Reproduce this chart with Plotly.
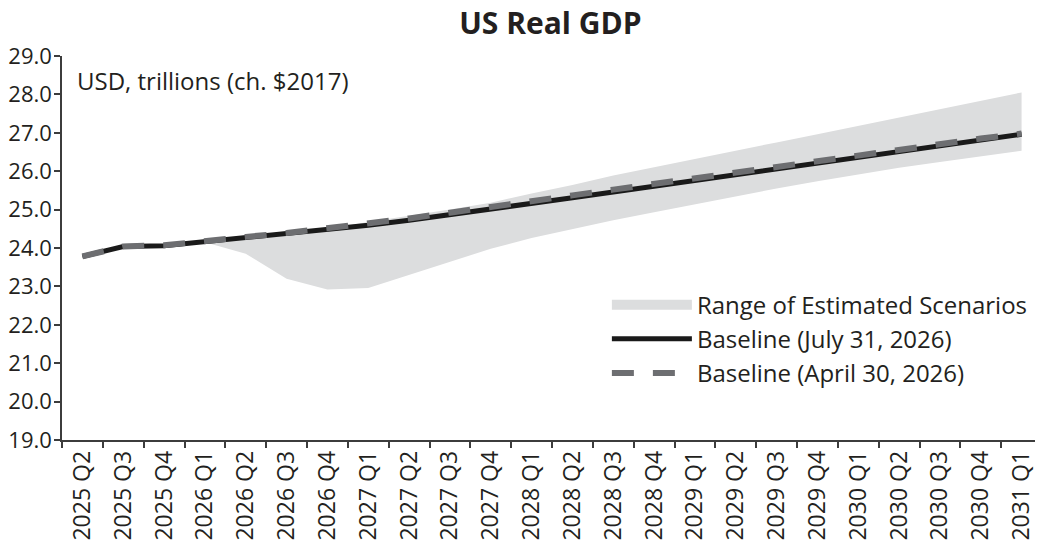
import plotly.graph_objects as go

# Quarters on the x axis
quarters = [
    '2025 Q2', '2025 Q3', '2025 Q4', '2026 Q1', '2026 Q2', '2026 Q3',
    '2026 Q4', '2027 Q1', '2027 Q2', '2027 Q3', '2027 Q4', '2028 Q1',
    '2028 Q2', '2028 Q3', '2028 Q4', '2029 Q1', '2029 Q2', '2029 Q3',
    '2029 Q4', '2030 Q1', '2030 Q2', '2030 Q3', '2030 Q4', '2031 Q1',
]

# Baseline (July 31, 2026)
baseline_jul = [
    23.78, 24.04, 24.06, 24.16, 24.27, 24.36, 24.47, 24.59, 24.72, 24.86,
    25.00, 25.16, 25.31, 25.46, 25.61, 25.76, 25.91, 26.06, 26.21, 26.36,
    26.51, 26.66, 26.81, 26.96,
]

# Baseline (April 30, 2026)
baseline_apr = [
    23.78, 24.04, 24.07, 24.19, 24.29, 24.39, 24.51, 24.64, 24.77, 24.92,
    25.06, 25.22, 25.37, 25.52, 25.67, 25.82, 25.97, 26.12, 26.27, 26.42,
    26.57, 26.71, 26.85, 26.98,
]

# Range of estimated scenarios (starts at 2026 Q1)
range_quarters = quarters[3:]
range_low = [
    24.15, 23.85, 23.20, 22.92, 22.96, 23.30, 23.64, 23.98, 24.26, 24.50,
    24.72, 24.93, 25.14, 25.35, 25.55, 25.74, 25.92, 26.09, 26.24, 26.38,
    26.53,
]
range_high = [
    24.16, 24.29, 24.39, 24.50, 24.68, 24.84, 25.00, 25.18, 25.42, 25.64,
    25.89, 26.10, 26.32, 26.53, 26.75, 26.96, 27.18, 27.39, 27.61, 27.83,
    28.05,
]

FONT = 'Open Sans'
TEXT = '#231f20'
AXIS = '#3c3c3c'
BAND = '#dcddde'

fig = go.Figure()

# scenario band
fig.add_trace(go.Scatter(
    x=range_quarters, y=range_low, mode='lines',
    line=dict(width=0), showlegend=False, hoverinfo='skip'
))
fig.add_trace(go.Scatter(
    x=range_quarters, y=range_high, mode='lines', fill='tonexty',
    fillcolor=BAND, line=dict(width=0, color=BAND),
    name='Range of Estimated Scenarios', showlegend=False
))
# legend entry for the band (thick bar like the original)
fig.add_trace(go.Scatter(
    x=[None], y=[None], mode='lines', line=dict(color=BAND, width=12),
    name='Range of Estimated Scenarios'
))

fig.add_trace(go.Scatter(
    x=quarters, y=baseline_jul, mode='lines',
    line=dict(color='#1a1a1a', width=5),
    name='Baseline (July 31, 2026)'
))
fig.add_trace(go.Scatter(
    x=quarters, y=baseline_apr, mode='lines',
    line=dict(color='#6d6e71', width=6, dash='22px,19px'),
    name='Baseline (April 30, 2026)'
))

fig.update_layout(
    width=1043, height=550,
    margin=dict(l=54, r=9, t=48, b=118),
    plot_bgcolor='white', paper_bgcolor='white',
    font=dict(family=FONT, size=23, color=TEXT),
    title=dict(
        text='<b>US Real GDP</b>', x=0.52, xanchor='center',
        y=0.972, yanchor='middle', font=dict(size=30, color=TEXT)
    ),
    legend=dict(
        x=0.556, y=0.41, xanchor='left', yanchor='top',
        traceorder='normal', bgcolor='rgba(0,0,0,0)', itemwidth=80,
        tracegroupgap=0, font=dict(size=24, color=TEXT)
    ),
    showlegend=True,
)

fig.update_xaxes(
    type='category', categoryorder='array', categoryarray=quarters,
    range=[-0.5, len(quarters) - 0.5],
    tickson='boundaries', ticks='outside', ticklen=6,
    tickwidth=1.5, tickcolor=AXIS, tickangle=-90, automargin=False,
    showline=True, linecolor=AXIS, linewidth=1.5,
    showgrid=False, zeroline=False, tickfont=dict(size=23)
)
fig.update_yaxes(
    range=[19, 29], dtick=1, tickformat='.1f', ticks='outside', ticklen=6,
    tickwidth=1.5, tickcolor=AXIS, automargin=False, ticklabelstandoff=-2,
    showline=True, linecolor=AXIS, linewidth=1.5,
    showgrid=False, zeroline=False, tickfont=dict(size=22)
)

fig.add_annotation(
    text='USD, trillions (ch. $2017)', xref='paper', yref='paper',
    x=0.013, y=0.935, xanchor='left', yanchor='middle', showarrow=False,
    font=dict(size=24, color=TEXT)
)

fig.write_html('out.html')
